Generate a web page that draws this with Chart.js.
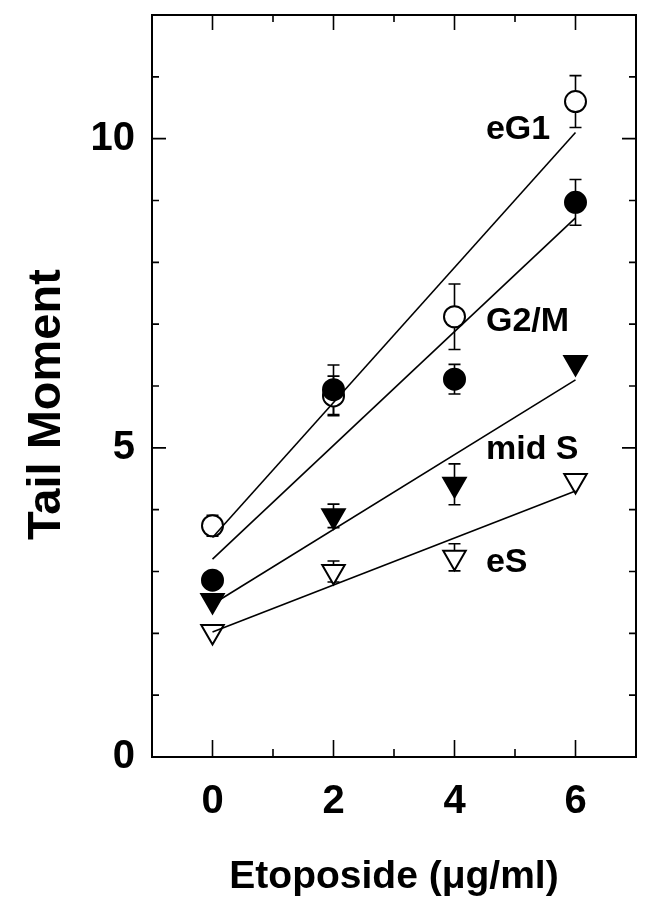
<!DOCTYPE html>
<html><head><meta charset="utf-8">
<script src="https://cdn.jsdelivr.net/npm/chart.js@4"></script>
<style>html,body{margin:0;padding:0;background:#fff}</style>
</head><body>
<canvas id="c" width="651" height="901"></canvas>
<script>
// ---- data ----
const doses = [0, 2, 4, 6];
const eG1 = [3.74, 5.84, 7.12, 10.6];
const eG1Err = [0.17, 0.32, 0.53, 0.42];
const g2m = [2.86, 5.94, 6.11, 8.97];
const g2mErr = [0, 0.4, 0.24, 0.37];
const midS = [2.53, 3.9, 4.41, 6.38];
const midSErr = [0, 0.19, 0.33, 0];
const eS = [2.03, 3.0, 3.23, 4.47];
const eSErr = [0, 0.17, 0.22, 0];
const fitX = [0, 6];
const eG1Fit = [3.55, 10.1];
const g2mFit = [3.2, 8.72];
const midSFit = [2.47, 6.1];
const eSFit = [2.02, 4.3];
const xTickLabels = [0, 2, 4, 6];
const yTickLabels = [0, 5, 10];
const seriesLabels = ['eG1', 'G2/M', 'mid S', 'eS'];
const labelX = [4.52, 4.52, 4.52, 4.52];
const labelY = [10.15, 7.04, 4.97, 3.14];
const xTitle = 'Etoposide (\u03bcg/ml)';
const yTitle = 'Tail Moment';

const FONT = "'Liberation Sans', Arial, Helvetica, sans-serif";
const pts = (ys) => doses.map((x, i) => ({x, y: ys[i]}));
const fit = (ys) => fitX.map((x, i) => ({x, y: ys[i]}));

const markerSets = [
  {label: 'eG1', data: pts(eG1), err: eG1Err, pointStyle: 'circle', pointRadius: 10.5, pointBackgroundColor: '#fff', order: 3},
  {label: 'G2/M', data: pts(g2m), err: g2mErr, pointStyle: 'circle', pointRadius: 10.5, pointBackgroundColor: '#000', order: 1},
  {label: 'mid S', data: pts(midS), err: midSErr, pointStyle: 'triangle', pointRotation: 180, pointRadius: 13, pointBackgroundColor: '#000', order: 1},
  {label: 'eS', data: pts(eS), err: eSErr, pointStyle: 'triangle', pointRotation: 180, pointRadius: 13, pointBackgroundColor: '#fff', order: 2}
].map(d => Object.assign({showLine: false, pointBorderColor: '#000', pointBorderWidth: 2, pointHoverRadius: d.pointRadius}, d));

const lineSets = [eG1Fit, g2mFit, midSFit, eSFit].map((ys, i) => ({
  label: 'fit ' + i, data: fit(ys), showLine: true, borderColor: '#000', borderWidth: 1.6,
  pointRadius: 0, pointHoverRadius: 0, order: 0
}));

const errPlugin = {
  id: 'errbars',
  beforeDatasetsDraw(chart) {
    const {ctx, scales: {x, y}} = chart;
    ctx.save();
    ctx.strokeStyle = '#000';
    ctx.lineWidth = 1.6;
    markerSets.forEach(ds => {
      ds.data.forEach((p, i) => {
        const e = ds.err[i];
        if (!e) return;
        const px = x.getPixelForValue(p.x);
        const yt = y.getPixelForValue(p.y + e);
        const yb = y.getPixelForValue(p.y - e);
        ctx.beginPath();
        ctx.moveTo(px, yt); ctx.lineTo(px, yb);
        ctx.moveTo(px - 6, yt); ctx.lineTo(px + 6, yt);
        ctx.moveTo(px - 6, yb); ctx.lineTo(px + 6, yb);
        ctx.stroke();
      });
    });
    ctx.restore();
  }
};

const tickPlugin = {
  id: 'innerTicks',
  afterDraw(chart) {
    const {ctx, chartArea: a, scales: {x, y}} = chart;
    ctx.save();
    ctx.strokeStyle = '#000';
    ctx.lineWidth = 1.6;
    ctx.beginPath();
    for (let v = Math.ceil(x.min) + 1; v < x.max; v++) {
      const px = x.getPixelForValue(v);
      const major = xTickLabels.includes(v);
      const lb = major ? 17 : 8;
      const lt = major ? 15 : 7;
      ctx.moveTo(px, a.bottom); ctx.lineTo(px, a.bottom - lb);
      ctx.moveTo(px, a.top); ctx.lineTo(px, a.top + lt);
    }
    for (let v = Math.ceil(y.min) + 1; v < y.max; v++) {
      const py = y.getPixelForValue(v);
      const major = yTickLabels.includes(v);
      const l = major ? 14 : 7;
      ctx.moveTo(a.left, py); ctx.lineTo(a.left + l, py);
      ctx.moveTo(a.right, py); ctx.lineTo(a.right - l, py);
    }
    ctx.stroke();
    // series labels
    ctx.fillStyle = '#000';
    ctx.font = 'bold 34px ' + FONT;
    ctx.textAlign = 'left';
    ctx.textBaseline = 'middle';
    seriesLabels.forEach((t, i) => {
      ctx.fillText(t, x.getPixelForValue(labelX[i]), y.getPixelForValue(labelY[i]));
    });
    // y-axis title
    ctx.save();
    ctx.translate(60, y.getPixelForValue(5.7));
    ctx.rotate(-Math.PI / 2);
    ctx.font = 'bold 47px ' + FONT;
    ctx.textAlign = 'center';
    ctx.textBaseline = 'alphabetic';
    ctx.fillText(yTitle, 0, 0);
    ctx.restore();
    ctx.restore();
  }
};

const noPad = s => { s.paddingTop = 0; s.paddingBottom = 0; s.paddingLeft = 0; s.paddingRight = 0; };
const border = {display: true, color: '#000', width: 2};
const grid = {display: false, drawTicks: false};
new Chart(document.getElementById('c'), {
  type: 'scatter',
  data: {datasets: [...lineSets, ...markerSets]},
  options: {
    responsive: false,
    animation: false,
    events: [],
    layout: {padding: 0},
    plugins: {legend: {display: false}, tooltip: {enabled: false}},
    scales: {
      x: {
        type: 'linear', position: 'bottom', min: -1, max: 7,
        afterBuildTicks: s => { s.ticks = xTickLabels.map(v => ({value: v})); },
        afterFit: s => { s.height = 144; noPad(s); },
        grid, border,
        ticks: {color: '#000', padding: 21, font: {family: FONT, size: 40, weight: 'bold'}, maxRotation: 0},
        title: {display: true, text: xTitle, color: '#000', font: {family: FONT, size: 39, weight: 'bold'}, padding: {top: 0, bottom: 0}}
      },
      x2: {
        type: 'linear', position: 'top', min: -1, max: 7,
        afterFit: s => { s.height = 9; noPad(s); },
        grid, border, ticks: {display: false}
      },
      y: {
        type: 'linear', position: 'left', min: 0, max: 12,
        afterBuildTicks: s => { s.ticks = yTickLabels.map(v => ({value: v})); },
        afterFit: s => { s.width = 152; noPad(s); },
        grid, border,
        ticks: {color: '#000', padding: 17, font: {family: FONT, size: 40, weight: 'bold'}}
      },
      y2: {
        type: 'linear', position: 'right', min: 0, max: 12,
        afterFit: s => { s.width = 5; noPad(s); },
        grid, border, ticks: {display: false}
      }
    }
  },
  plugins: [errPlugin, tickPlugin]
});
</script>
</body></html>
